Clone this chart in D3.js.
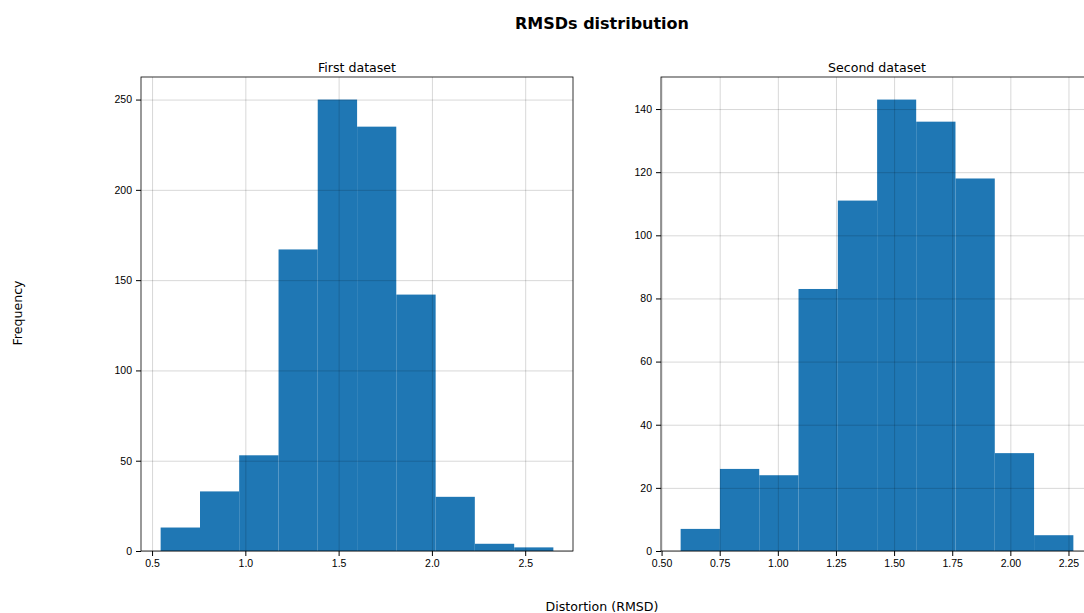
<!DOCTYPE html>
<html>
<head>
<meta charset="utf-8">
<script src="https://cdn.jsdelivr.net/npm/d3@7"></script>
<style>
  body { margin: 0; background: #fff; }
  svg { font-family: "DejaVu Sans", sans-serif; }
  .tick text { font-size: 10.5px; fill: #000; }
  .grid line { stroke: #000; stroke-opacity: 0.2; stroke-width: 0.8; }
</style>
</head>
<body>
<div id="chart"></div>
<script>
// bin edges and counts
const firstEdges = [0.546, 0.757, 0.967, 1.178, 1.388, 1.599, 1.809, 2.020, 2.230, 2.441, 2.651];
const firstCounts = [13, 33, 53, 167, 250, 235, 142, 30, 4, 2];
const firstXTicks = [0.5, 1.0, 1.5, 2.0, 2.5];
const firstYTicks = [0, 50, 100, 150, 200, 250];

const secondEdges = [0.582, 0.751, 0.920, 1.089, 1.258, 1.427, 1.595, 1.764, 1.933, 2.102, 2.271];
const secondCounts = [7, 26, 24, 83, 111, 143, 136, 118, 31, 5];
const secondXTicks = [0.50, 0.75, 1.00, 1.25, 1.50, 1.75, 2.00, 2.25];
const secondYTicks = [0, 20, 40, 60, 80, 100, 120, 140];

const width = 1084, height = 613;

const svg = d3.select("#chart").append("svg")
    .attr("width", width)
    .attr("height", height);

svg.append("text")
    .attr("x", 602).attr("y", 29)
    .attr("text-anchor", "middle")
    .style("font-size", "16px")
    .style("font-weight", "bold")
    .text("RMSDs distribution");

svg.append("text")
    .attr("x", 602).attr("y", 611)
    .attr("text-anchor", "middle")
    .style("font-size", "12.6px")
    .text("Distortion (RMSD)");

svg.append("text")
    .attr("transform", "translate(22,313) rotate(-90)")
    .attr("text-anchor", "middle")
    .style("font-size", "12.6px")
    .text("Frequency");

function histPanel(opts) {
    let w = 432, h = 474;
    let g = svg.append("g")
        .attr("transform", "translate(" + opts.left + ",77)");

    // matplotlib style autoscale: 5% margin on x, 5% headroom on y
    let lo = opts.edges[0], hi = opts.edges[opts.edges.length - 1];
    let pad = (hi - lo) * 0.05;
    let x = d3.scaleLinear().domain([lo - pad, hi + pad]).range([0, w]);
    let y = d3.scaleLinear().domain([0, d3.max(opts.counts) * 1.05]).range([h, 0]);

    let bins = opts.counts.map((c, i) => ({x0: opts.edges[i], x1: opts.edges[i + 1], count: c}));

    g.selectAll("rect.bar")
        .data(bins)
        .enter().append("rect")
        .attr("class", "bar")
        .attr("x", d => x(d.x0))
        .attr("width", d => x(d.x1) - x(d.x0))
        .attr("y", d => y(d.count))
        .attr("height", d => y(0) - y(d.count))
        .attr("fill", "#1f77b4");

    // grid on top of bars
    g.append("g")
        .attr("class", "grid")
        .attr("transform", "translate(0," + h + ")")
        .call(d3.axisBottom(x).tickValues(opts.xTicks).tickSize(-h).tickFormat(""))
        .call(s => s.select(".domain").remove());

    g.append("g")
        .attr("class", "grid")
        .call(d3.axisLeft(y).tickValues(opts.yTicks).tickSize(-w).tickFormat(""))
        .call(s => s.select(".domain").remove());

    // frame
    g.append("rect")
        .attr("width", w).attr("height", h)
        .attr("fill", "none")
        .attr("stroke", "#000")
        .attr("stroke-width", 0.8);

    g.append("g")
        .attr("transform", "translate(0," + h + ")")
        .call(d3.axisBottom(x).tickValues(opts.xTicks).tickSize(5).tickPadding(4).tickFormat(d3.format(opts.fmt)))
        .call(s => s.select(".domain").remove());

    g.append("g")
        .call(d3.axisLeft(y).tickValues(opts.yTicks).tickSize(5).tickPadding(4))
        .call(s => s.select(".domain").remove());

    g.append("text")
        .attr("x", w / 2).attr("y", -5)
        .attr("text-anchor", "middle")
        .style("font-size", "12.6px")
        .text(opts.title);
}

histPanel({left: 141, edges: firstEdges, counts: firstCounts, xTicks: firstXTicks, yTicks: firstYTicks, fmt: ".1f", title: "First dataset"});
histPanel({left: 661, edges: secondEdges, counts: secondCounts, xTicks: secondXTicks, yTicks: secondYTicks, fmt: ".2f", title: "Second dataset"});
</script>
</body>
</html>
